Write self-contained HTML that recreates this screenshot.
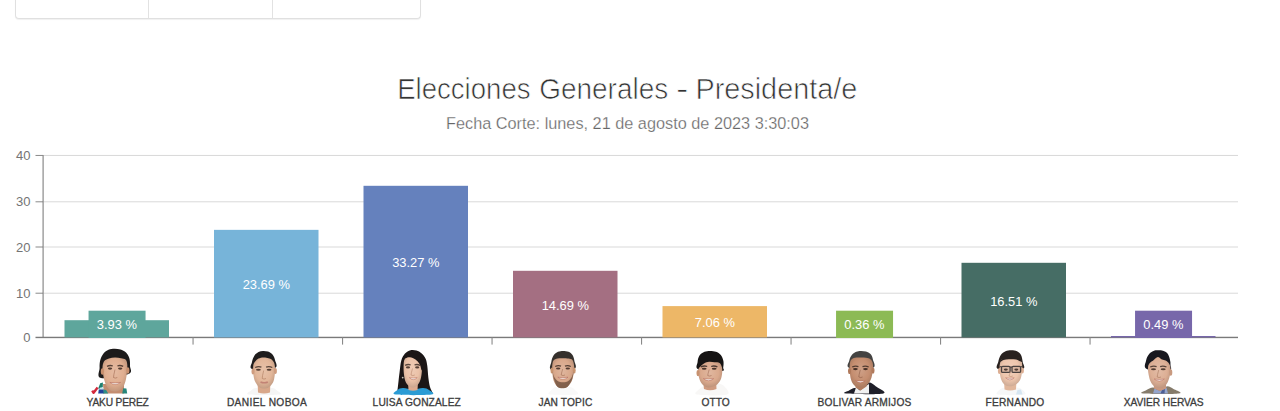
<!DOCTYPE html>
<html><head><meta charset="utf-8"><title>Elecciones Generales - Presidenta/e</title>
<style>
html,body{margin:0;padding:0;background:#fff;}
body{width:1280px;height:411px;overflow:hidden;position:relative;font-family:"Liberation Sans",Arial,sans-serif;}
.topbox{position:absolute;left:15px;top:-6px;width:404px;height:24px;border:1px solid #e0e0e0;border-top:none;border-radius:0 0 4px 4px;box-shadow:0 1px 1px rgba(0,0,0,0.06);background:#fff;}
.topbox i{position:absolute;top:0;bottom:0;width:1px;background:#e2e2e2;}
.t2{position:absolute;top:113.6px;left:0;width:1255px;text-align:center;font-size:16.3px;line-height:19px;color:#666;white-space:nowrap;-webkit-text-stroke:0.25px #fff;}
.chart{position:absolute;left:0;top:0;}
.tt{font-family:"Liberation Sans",Arial,sans-serif;font-size:30px;fill:#333;stroke:#fff;stroke-width:0.7px;white-space:pre;}
.yl{font-family:"Liberation Sans",Arial,sans-serif;font-size:13px;fill:#747474;}
.bl{font-family:"Liberation Sans",Arial,sans-serif;font-size:12.9px;fill:#fff;}
.nm{font-family:"Liberation Sans",Arial,sans-serif;font-size:10.2px;fill:#3c3c3c;stroke:#3c3c3c;stroke-width:0.3px;}
</style></head><body>
<div class="topbox"><i style="left:132px"></i><i style="left:256px"></i></div>
<div class="t2">Fecha Corte: lunes, 21 de agosto de 2023 3:30:03</div>
<svg class="chart" width="1280" height="411" viewBox="0 0 1280 411"><rect x="42.0" y="154.95" width="1196.0" height="1" fill="#d9d9d9"/><rect x="35.5" y="154.95" width="7.5" height="1" fill="#8a8a8a"/><rect x="42.0" y="201.30" width="1196.0" height="1" fill="#d9d9d9"/><rect x="35.5" y="201.30" width="7.5" height="1" fill="#8a8a8a"/><rect x="42.0" y="246.50" width="1196.0" height="1" fill="#d9d9d9"/><rect x="35.5" y="246.50" width="7.5" height="1" fill="#8a8a8a"/><rect x="42.0" y="292.70" width="1196.0" height="1" fill="#d9d9d9"/><rect x="35.5" y="292.70" width="7.5" height="1" fill="#8a8a8a"/><text x="30.5" y="160.05" text-anchor="end" class="yl">40</text><text x="30.5" y="206.40" text-anchor="end" class="yl">30</text><text x="30.5" y="251.60" text-anchor="end" class="yl">20</text><text x="30.5" y="297.80" text-anchor="end" class="yl">10</text><text x="30.5" y="342.00" text-anchor="end" class="yl">0</text><rect x="42.5" y="155" width="1.2" height="182.4" fill="#8a8a8a"/><rect x="35.5" y="336.75" width="1202.5" height="1.4" fill="#7a7a7a"/><rect x="192.50" y="337.4" width="1.1" height="7.2" fill="#8a8a8a"/><rect x="342.00" y="337.4" width="1.1" height="7.2" fill="#8a8a8a"/><rect x="491.50" y="337.4" width="1.1" height="7.2" fill="#8a8a8a"/><rect x="641.00" y="337.4" width="1.1" height="7.2" fill="#8a8a8a"/><rect x="790.50" y="337.4" width="1.1" height="7.2" fill="#8a8a8a"/><rect x="940.00" y="337.4" width="1.1" height="7.2" fill="#8a8a8a"/><rect x="1089.50" y="337.4" width="1.1" height="7.2" fill="#8a8a8a"/><rect x="64.50" y="320.20" width="104.5" height="17.20" fill="#5ea69c"/><rect x="214.00" y="229.85" width="104.5" height="107.55" fill="#77b4d9"/><rect x="363.50" y="185.80" width="104.5" height="151.60" fill="#6581bd"/><rect x="513.00" y="270.80" width="104.5" height="66.60" fill="#a46f82"/><rect x="662.50" y="306.10" width="104.5" height="31.30" fill="#edb767"/><rect x="961.50" y="262.80" width="104.5" height="74.60" fill="#466d65"/><rect x="1111.00" y="336.00" width="104.5" height="1.40" fill="#7767aa"/><rect x="88.55" y="310.7" width="57" height="27.3" fill="#5ea69c"/><text x="116.85" y="328.75" text-anchor="middle" class="bl">3.93 %</text><text x="266.35" y="289.18" text-anchor="middle" class="bl">23.69 %</text><text x="415.85" y="267.15" text-anchor="middle" class="bl">33.27 %</text><text x="565.35" y="309.65" text-anchor="middle" class="bl">14.69 %</text><text x="714.85" y="327.30" text-anchor="middle" class="bl">7.06 %</text><rect x="836.05" y="310.7" width="57" height="27.3" fill="#8cba55"/><text x="864.35" y="328.75" text-anchor="middle" class="bl">0.36 %</text><text x="1013.85" y="305.65" text-anchor="middle" class="bl">16.51 %</text><rect x="1135.05" y="310.7" width="57" height="27.3" fill="#7767aa"/><text x="1163.35" y="328.75" text-anchor="middle" class="bl">0.49 %</text><defs><radialGradient id="ge0ae90" cx="0.48" cy="0.42" r="0.62"><stop offset="0" stop-color="#e5bba2"/><stop offset="0.6" stop-color="#e0ae90"/><stop offset="1" stop-color="#bc9279"/></radialGradient><radialGradient id="ge2b699" cx="0.48" cy="0.42" r="0.62"><stop offset="0" stop-color="#e7c2a9"/><stop offset="0.6" stop-color="#e2b699"/><stop offset="1" stop-color="#be9981"/></radialGradient><radialGradient id="gebc1a7" cx="0.48" cy="0.42" r="0.62"><stop offset="0" stop-color="#eecbb5"/><stop offset="0.6" stop-color="#ebc1a7"/><stop offset="1" stop-color="#c5a28c"/></radialGradient><radialGradient id="gd9a88b" cx="0.48" cy="0.42" r="0.62"><stop offset="0" stop-color="#dfb69e"/><stop offset="0.6" stop-color="#d9a88b"/><stop offset="1" stop-color="#b68d75"/></radialGradient><radialGradient id="gdaa98d" cx="0.48" cy="0.42" r="0.62"><stop offset="0" stop-color="#e0b79f"/><stop offset="0.6" stop-color="#daa98d"/><stop offset="1" stop-color="#b78e76"/></radialGradient><radialGradient id="gc58e70" cx="0.48" cy="0.42" r="0.62"><stop offset="0" stop-color="#cea087"/><stop offset="0.6" stop-color="#c58e70"/><stop offset="1" stop-color="#a5775e"/></radialGradient><radialGradient id="geec6ad" cx="0.48" cy="0.42" r="0.62"><stop offset="0" stop-color="#f1cfba"/><stop offset="0.6" stop-color="#eec6ad"/><stop offset="1" stop-color="#c8a691"/></radialGradient><radialGradient id="gddaf95" cx="0.48" cy="0.42" r="0.62"><stop offset="0" stop-color="#e2bca6"/><stop offset="0.6" stop-color="#ddaf95"/><stop offset="1" stop-color="#ba937d"/></radialGradient></defs><path d="M103,384 L124,384 L124,393.6 L103.5,393.6 Z" fill="#c48d70" /><path d="M98.2,388.5 L100.2,383.2 L102.9,382.4 L102.8,386.8 L100.6,389.2 Z" fill="#1f7f6e" /><path d="M98.4,389.8 L100.4,387.6 L103.2,387.3 L103.8,389.6 Z" fill="#bfe6ea" /><path d="M98.2,393.6 L98.8,389.4 L103.6,389.5 L104.2,393.6 Z" fill="#23429a" /><path d="M103.4,393.6 L103.6,389.6 L106.2,390 L108.2,393.6 Z" fill="#2f8f86" /><path d="M122.2,393.6 L123.2,388.2 L126.4,388.6 L127.2,393.6 Z" fill="#27867a" /><path d="M101.00,378.00 C96.18,377.00 99.72,371.00 99.60,368.00 C99.48,365.00 99.65,362.42 100.30,360.00 C100.95,357.58 102.13,355.20 103.50,353.50 C104.87,351.80 106.67,350.58 108.50,349.80 C110.33,349.02 112.50,348.83 114.50,348.80 C116.50,348.77 118.58,348.98 120.50,349.60 C122.42,350.22 124.53,351.10 126.00,352.50 C127.47,353.90 128.63,355.75 129.30,358.00 C129.97,360.25 130.13,363.33 130.00,366.00 C129.87,368.67 133.33,372.00 128.50,374.00 C123.67,376.00 105.82,379.00 101.00,378.00 Z" fill="#1c1a1a" /><path d="M102.60,366.00 C102.87,364.13 103.43,362.07 104.50,360.80 C105.57,359.53 107.25,358.93 109.00,358.40 C110.75,357.87 113.00,357.63 115.00,357.60 C117.00,357.57 119.25,357.87 121.00,358.20 C122.75,358.53 124.47,358.63 125.50,359.60 C126.53,360.57 126.93,362.10 127.20,364.00 C127.47,365.90 127.30,368.50 127.10,371.00 C126.90,373.50 126.58,376.50 126.00,379.00 C125.42,381.50 124.73,384.07 123.60,386.00 C122.47,387.93 120.63,389.67 119.20,390.60 C117.77,391.53 116.43,391.60 115.00,391.60 C113.57,391.60 112.00,391.53 110.60,390.60 C109.20,389.67 107.70,387.93 106.60,386.00 C105.50,384.07 104.62,381.33 104.00,379.00 C103.38,376.67 103.13,374.17 102.90,372.00 C102.67,369.83 102.33,367.87 102.60,366.00 Z" fill="url(#ge0ae90)" /><ellipse cx="102.4" cy="371.5" rx="1.6" ry="3.2" fill="#c8906f"/><ellipse cx="127.8" cy="370.5" rx="1.6" ry="3.2" fill="#c8906f"/><ellipse cx="110.0" cy="368.6" rx="2.2" ry="1.05" fill="#3b2820" opacity="0.85"/><ellipse cx="120.2" cy="368.6" rx="2.2" ry="1.05" fill="#3b2820" opacity="0.85"/><path d="M107.0,366.4 Q110.0,364.8 112.8,366.0 M117.4,366.0 Q120.2,364.8 123.2,366.4" stroke="#2a1e1a" stroke-width="1.3" fill="none" opacity="0.75"/><path d="M115.0,369.5 Q113.5,375.5 113.5,377.5 Q115.3,378.7 117.3,377.5" stroke="#9a6248" stroke-width="1" fill="none" opacity="0.55"/><path d="M109.8,382.4 Q115.2,383.4 120.6,382.4 Q115.2,386.6 109.8,382.4 Z" fill="#f5eee8" stroke="#a8564e" stroke-width="0.7" stroke-opacity="0.6"/><path d="M92.2,390.6 L93.6,392.8 L97.6,387.6" stroke="#d3283a" stroke-width="2.4" fill="none" stroke-linejoin="round"/><path d="M249.00,394.60 C244.33,393.92 249.83,391.60 251.00,390.50 C252.17,389.40 253.83,388.08 256.00,388.00 C258.17,387.92 261.33,390.00 264.00,390.00 C266.67,390.00 269.83,387.92 272.00,388.00 C274.17,388.08 275.83,389.40 277.00,390.50 C278.17,391.60 283.67,393.92 279.00,394.60 C274.33,395.28 253.67,395.28 249.00,394.60 Z" fill="#f5f5f5" /><path d="M257.5,381 L270.5,381 L270,392.5 Q264,394.5 258,392.5 Z" fill="#d8a78a" /><path d="M252.40,369.00 C248.60,368.00 251.65,364.25 252.00,362.00 C252.35,359.75 253.42,357.17 254.50,355.50 C255.58,353.83 257.08,352.77 258.50,352.00 C259.92,351.23 261.42,350.97 263.00,350.90 C264.58,350.83 266.42,351.00 268.00,351.60 C269.58,352.20 271.33,353.10 272.50,354.50 C273.67,355.90 274.62,357.75 275.00,360.00 C275.38,362.25 278.57,366.50 274.80,368.00 C271.03,369.50 256.20,370.00 252.40,369.00 Z" fill="#1f1d1d" /><path d="M253.20,366.00 C253.47,363.60 254.32,362.83 255.20,361.60 C256.08,360.37 257.12,359.28 258.50,358.60 C259.88,357.92 261.83,357.57 263.50,357.50 C265.17,357.43 267.15,357.88 268.50,358.20 C269.85,358.52 270.65,358.60 271.60,359.40 C272.55,360.20 273.62,361.40 274.20,363.00 C274.78,364.60 275.03,366.83 275.10,369.00 C275.17,371.17 274.95,373.73 274.60,376.00 C274.25,378.27 273.97,380.73 273.00,382.60 C272.03,384.47 270.28,386.20 268.80,387.20 C267.32,388.20 265.67,388.60 264.10,388.60 C262.53,388.60 260.82,388.20 259.40,387.20 C257.98,386.20 256.57,384.47 255.60,382.60 C254.63,380.73 254.00,378.77 253.60,376.00 C253.20,373.23 252.93,368.40 253.20,366.00 Z" fill="url(#ge2b699)" /><ellipse cx="253" cy="371.5" rx="1.5" ry="3" fill="#cf9c7e"/><ellipse cx="275.4" cy="371" rx="1.5" ry="3" fill="#cf9c7e"/><ellipse cx="258.4" cy="369.7" rx="2.4" ry="1.05" fill="#3b2820" opacity="0.85"/><ellipse cx="269.1" cy="369.7" rx="2.4" ry="1.05" fill="#3b2820" opacity="0.85"/><path d="M255.2,367.5 Q258.4,365.9 261.4,367.1 M266.1,367.1 Q269.1,365.9 272.3,367.5" stroke="#2a1e1a" stroke-width="1.3" fill="none" opacity="0.75"/><path d="M263.7,370.5 Q262.2,376.5 262.2,378.5 Q264.0,379.7 266.0,378.5" stroke="#a87458" stroke-width="1" fill="none" opacity="0.55"/><path d="M260.5,382.0 Q264.1,383.6 267.8,382.0" stroke="#b56e66" stroke-width="1.6" fill="none" opacity="0.7"/><path d="M397.10,393.60 C397.28,392.00 397.78,387.60 398.20,384.00 C398.62,380.40 399.08,375.90 399.60,372.00 C400.12,368.10 400.40,363.67 401.30,360.60 C402.20,357.53 403.47,355.32 405.00,353.60 C406.53,351.88 408.58,350.80 410.50,350.30 C412.42,349.80 414.68,350.10 416.50,350.60 C418.32,351.10 419.90,351.98 421.40,353.30 C422.90,354.62 424.52,356.38 425.50,358.50 C426.48,360.62 426.82,362.75 427.30,366.00 C427.78,369.25 427.95,374.50 428.40,378.00 C428.85,381.50 429.23,384.40 430.00,387.00 C430.77,389.60 432.50,392.50 433.00,393.60 Z" fill="#1b1616" /><path d="M395.90,394.60 C390.28,393.83 396.32,391.10 397.50,390.00 C398.68,388.90 400.42,388.08 403.00,388.00 C405.58,387.92 409.67,389.50 413.00,389.50 C416.33,389.50 420.33,387.92 423.00,388.00 C425.67,388.08 427.63,388.90 429.00,390.00 C430.37,391.10 436.72,393.83 431.20,394.60 C425.68,395.37 401.52,395.37 395.90,394.60 Z" fill="#2b9bd4" /><path d="M408,381 L418,381 L417.5,390 Q413,391.5 408.5,390 Z" fill="#dcab90" /><path d="M403.60,366.00 C403.68,363.58 403.75,361.17 404.40,359.50 C405.05,357.83 406.32,356.63 407.50,356.00 C408.68,355.37 410.08,355.45 411.50,355.70 C412.92,355.95 414.55,356.48 416.00,357.50 C417.45,358.52 419.23,360.22 420.20,361.80 C421.17,363.38 421.57,364.97 421.80,367.00 C422.03,369.03 421.90,371.67 421.60,374.00 C421.30,376.33 420.80,379.03 420.00,381.00 C419.20,382.97 417.98,384.70 416.80,385.80 C415.62,386.90 414.20,387.55 412.90,387.60 C411.60,387.65 410.23,387.12 409.00,386.10 C407.77,385.08 406.35,383.52 405.50,381.50 C404.65,379.48 404.22,376.58 403.90,374.00 C403.58,371.42 403.52,368.42 403.60,366.00 Z" fill="url(#gebc1a7)" /><path d="M403.60,360.50 C403.63,360.10 404.65,356.92 405.80,355.80 C406.95,354.68 408.80,354.03 410.50,353.80 C412.20,353.57 414.32,353.67 416.00,354.40 C417.68,355.13 419.60,356.52 420.60,358.20 C421.60,359.88 421.80,362.45 422.00,364.50 C422.20,366.55 422.20,370.58 421.80,370.50 C421.40,370.42 420.65,365.82 419.60,364.00 C418.55,362.18 417.10,360.73 415.50,359.60 C413.90,358.47 411.65,357.43 410.00,357.20 C408.35,356.97 406.67,357.65 405.60,358.20 C404.53,358.75 403.57,360.90 403.60,360.50 Z" fill="#1b1616" /><circle cx="402.7" cy="377.6" r="0.9" fill="#c9c2b8"/><ellipse cx="408.0" cy="367.4" rx="2.1" ry="1.05" fill="#3b2820" opacity="0.85"/><ellipse cx="417.2" cy="367.4" rx="2.1" ry="1.05" fill="#3b2820" opacity="0.85"/><path d="M405.1,365.4 Q408.0,363.8 410.7,365.0 M414.5,365.0 Q417.2,363.8 420.1,365.4" stroke="#2a1e1a" stroke-width="1.3" fill="none" opacity="0.75"/><path d="M412.5,368.5 Q411.0,373.8 411.0,375.0 Q412.8,376.2 414.8,375.0" stroke="#b27f66" stroke-width="1" fill="none" opacity="0.55"/><path d="M409.3,377.6 Q413.2,378.6 417.2,377.6 Q413.2,381.8 409.3,377.6 Z" fill="#f5eee8" stroke="#a8564e" stroke-width="0.7" stroke-opacity="0.6"/><path d="M550.00,394.60 C545.83,393.83 550.50,391.27 551.50,390.00 C552.50,388.73 554.08,387.17 556.00,387.00 C557.92,386.83 560.67,389.00 563.00,389.00 C565.33,389.00 568.00,386.83 570.00,387.00 C572.00,387.17 573.92,388.73 575.00,390.00 C576.08,391.27 580.67,393.83 576.50,394.60 C572.33,395.37 554.17,395.37 550.00,394.60 Z" fill="#f9f9f9" /><path d="M551.80,370.00 C548.00,368.83 551.02,364.42 551.30,362.00 C551.58,359.58 552.38,357.20 553.50,355.50 C554.62,353.80 556.40,352.57 558.00,351.80 C559.60,351.03 561.35,350.90 563.10,350.90 C564.85,350.90 566.93,351.12 568.50,351.80 C570.07,352.48 571.52,353.47 572.50,355.00 C573.48,356.53 574.13,358.67 574.40,361.00 C574.67,363.33 577.87,367.50 574.10,369.00 C570.33,370.50 555.60,371.17 551.80,370.00 Z" fill="#35302c" /><path d="M552.20,366.00 C552.38,363.92 552.62,361.75 553.50,360.50 C554.38,359.25 555.92,358.88 557.50,358.50 C559.08,358.12 561.17,358.20 563.00,358.20 C564.83,358.20 566.92,358.20 568.50,358.50 C570.08,358.80 571.57,358.75 572.50,360.00 C573.43,361.25 573.90,363.83 574.10,366.00 C574.30,368.17 574.05,370.58 573.70,373.00 C573.35,375.42 572.98,378.27 572.00,380.50 C571.02,382.73 569.38,385.15 567.80,386.40 C566.22,387.65 564.27,388.00 562.50,388.00 C560.73,388.00 558.68,387.65 557.20,386.40 C555.72,385.15 554.40,382.73 553.60,380.50 C552.80,378.27 552.63,375.42 552.40,373.00 C552.17,370.58 552.02,368.08 552.20,366.00 Z" fill="url(#gd9a88b)" /><ellipse cx="551.9" cy="370.5" rx="1.4" ry="3" fill="#c8946f"/><ellipse cx="574.3" cy="370.5" rx="1.4" ry="3" fill="#c8946f"/><path d="M552.40,371.50 C552.37,371.83 553.20,376.52 554.00,379.00 C554.80,381.48 555.78,384.85 557.20,386.40 C558.62,387.95 560.73,388.30 562.50,388.30 C564.27,388.30 566.22,387.87 567.80,386.40 C569.38,384.93 571.02,381.98 572.00,379.50 C572.98,377.02 573.73,371.92 573.70,371.50 C573.67,371.08 572.58,375.50 571.80,377.00 C571.02,378.50 569.97,379.67 569.00,380.50 C568.03,381.33 567.00,381.70 566.00,382.00 C565.00,382.30 564.00,382.30 563.00,382.30 C562.00,382.30 561.00,382.30 560.00,382.00 C559.00,381.70 557.97,381.33 557.00,380.50 C556.03,379.67 554.97,378.50 554.20,377.00 C553.43,375.50 552.43,371.17 552.40,371.50 Z" fill="#7a5a46" opacity="0.9"/><ellipse cx="558.2" cy="368.5" rx="2.2" ry="1.05" fill="#3b2820" opacity="0.85"/><ellipse cx="567.8" cy="368.5" rx="2.2" ry="1.05" fill="#3b2820" opacity="0.85"/><path d="M555.2,366.5 Q558.2,364.9 561.0,366.1 M565.0,366.1 Q567.8,364.9 570.8,366.5" stroke="#241a16" stroke-width="1.3" fill="none" opacity="0.75"/><path d="M562.7,369.0 Q561.2,374.0 561.2,375.0 Q563.0,376.2 565.0,375.0" stroke="#9a6a50" stroke-width="1" fill="none" opacity="0.55"/><path d="M557.8,377.2 Q562.9,378.2 568.0,377.2 Q562.9,381.4 557.8,377.2 Z" fill="#f5eee8" stroke="#a8564e" stroke-width="0.7" stroke-opacity="0.6"/><path d="M697.00,394.60 C692.42,393.67 698.17,390.43 699.50,389.00 C700.83,387.57 702.92,386.25 705.00,386.00 C707.08,385.75 709.83,387.83 712.00,387.50 C714.17,387.17 716.00,384.25 718.00,384.00 C720.00,383.75 722.50,384.23 724.00,386.00 C725.50,387.77 731.50,393.17 727.00,394.60 C722.50,396.03 701.58,395.53 697.00,394.60 Z" fill="#f8f7f6" /><path d="M703,380 L716,379 L716.5,389 Q710,391.5 704,389 Z" fill="#cf9b80" /><path d="M698.60,369.50 C694.57,368.00 697.45,364.33 697.60,362.00 C697.75,359.67 698.35,357.20 699.50,355.50 C700.65,353.80 702.77,352.57 704.50,351.80 C706.23,351.03 707.98,350.92 709.90,350.90 C711.82,350.88 714.18,351.02 716.00,351.70 C717.82,352.38 719.57,353.45 720.80,355.00 C722.03,356.55 723.00,358.92 723.40,361.00 C723.80,363.08 723.47,365.83 723.20,367.50 C722.93,369.17 725.90,370.67 721.80,371.00 C717.70,371.33 702.63,371.00 698.60,369.50 Z" fill="#161414" /><path d="M698.50,369.00 C698.82,367.87 699.28,367.62 700.20,366.70 C701.12,365.78 702.53,364.32 704.00,363.50 C705.47,362.68 707.25,362.00 709.00,361.80 C710.75,361.60 712.73,362.10 714.50,362.30 C716.27,362.50 718.35,362.13 719.60,363.00 C720.85,363.87 721.58,365.75 722.00,367.50 C722.42,369.25 722.35,371.42 722.10,373.50 C721.85,375.58 721.52,378.05 720.50,380.00 C719.48,381.95 718.07,383.97 716.00,385.20 C713.93,386.43 710.35,387.52 708.10,387.40 C705.85,387.28 703.95,385.90 702.50,384.50 C701.05,383.10 700.10,380.83 699.40,379.00 C698.70,377.17 698.45,375.17 698.30,373.50 C698.15,371.83 698.18,370.13 698.50,369.00 Z" fill="url(#gdaa98d)" /><ellipse cx="698" cy="373" rx="1.5" ry="3.1" fill="#c7916f"/><ellipse cx="704.2" cy="368.8" rx="2.4" ry="1.05" fill="#3b2820" opacity="0.9"/><ellipse cx="714.2" cy="368.8" rx="2.4" ry="1.05" fill="#3b2820" opacity="0.9"/><path d="M701.0,366.9 Q704.2,365.3 707.2,366.5 M711.2,366.5 Q714.2,365.3 717.4,366.9" stroke="#1e1616" stroke-width="1.3" fill="none" opacity="0.75"/><path d="M709.2,369.5 Q707.7,374.5 707.7,375.5 Q709.5,376.7 711.5,375.5" stroke="#9a6650" stroke-width="1" fill="none" opacity="0.55"/><path d="M703.4,378.6 Q708.5,379.6 713.6,378.6 Q708.5,382.8 703.4,378.6 Z" fill="#f5eee8" stroke="#a8564e" stroke-width="0.7" stroke-opacity="0.6"/><path d="M846.10,393.60 C840.40,393.08 847.58,391.43 849.00,390.50 C850.42,389.57 852.77,388.25 854.60,388.00 C856.43,387.75 858.27,389.17 860.00,389.00 C861.73,388.83 863.47,388.08 865.00,387.00 C866.53,385.92 867.37,382.58 869.20,382.50 C871.03,382.42 873.67,384.65 876.00,386.50 C878.33,388.35 888.18,392.42 883.20,393.60 C878.22,394.78 851.80,394.12 846.10,393.60 Z" fill="#1f1f29" /><path d="M854,393.6 L856,387.5 L860,390.5 L864.5,387 L869,384 L869,393.6 Z" fill="#f1f1f1" /><path d="M855,380 L867,380 L866.5,386.5 L860.5,390.5 L855.5,387.5 Z" fill="#b27c5f" /><path d="M849.40,367.90 C845.48,366.67 848.87,362.68 849.30,360.50 C849.73,358.32 850.83,356.27 852.00,354.80 C853.17,353.33 854.85,352.35 856.30,351.70 C857.75,351.05 859.08,350.93 860.70,350.90 C862.32,350.87 864.37,350.98 866.00,351.50 C867.63,352.02 869.35,352.68 870.50,354.00 C871.65,355.32 872.52,357.08 872.90,359.40 C873.28,361.72 876.72,366.48 872.80,367.90 C868.88,369.32 853.32,369.13 849.40,367.90 Z" fill="#444342" /><path d="M849.70,365.00 C849.90,363.00 850.12,361.20 851.00,360.00 C851.88,358.80 853.42,358.22 855.00,357.80 C856.58,357.38 858.67,357.50 860.50,357.50 C862.33,357.50 864.30,357.47 866.00,357.80 C867.70,358.13 869.55,358.47 870.70,359.50 C871.85,360.53 872.57,362.00 872.90,364.00 C873.23,366.00 873.05,368.92 872.70,371.50 C872.35,374.08 871.83,377.17 870.80,379.50 C869.77,381.83 868.28,384.18 866.50,385.50 C864.72,386.82 862.15,387.45 860.10,387.40 C858.05,387.35 855.72,386.52 854.20,385.20 C852.68,383.88 851.73,381.70 851.00,379.50 C850.27,377.30 850.02,374.42 849.80,372.00 C849.58,369.58 849.50,367.00 849.70,365.00 Z" fill="url(#gc58e70)" /><ellipse cx="849.5" cy="371" rx="1.5" ry="3.1" fill="#b07a5c"/><ellipse cx="873" cy="370.5" rx="1.5" ry="3.1" fill="#b07a5c"/><ellipse cx="855.4" cy="369.1" rx="2.4" ry="1.05" fill="#2f1f18" opacity="0.85"/><ellipse cx="865.5" cy="369.1" rx="2.4" ry="1.05" fill="#2f1f18" opacity="0.85"/><path d="M852.2,367.0 Q855.4,365.4 858.4,366.6 M862.5,366.6 Q865.5,365.4 868.7,367.0" stroke="#2a1e1a" stroke-width="1.3" fill="none" opacity="0.75"/><path d="M860.3,369.8 Q858.8,375.4 858.8,377.0 Q860.6,378.2 862.6,377.0" stroke="#86563f" stroke-width="1" fill="none" opacity="0.55"/><path d="M855.6,380.6 Q860.4,381.6 865.2,380.6 Q860.4,384.8 855.6,380.6 Z" fill="#f5eee8" stroke="#a8564e" stroke-width="0.7" stroke-opacity="0.6"/><path d="M998.00,394.60 C994.00,393.75 998.83,390.68 1000.00,389.50 C1001.17,388.32 1003.17,387.58 1005.00,387.50 C1006.83,387.42 1009.00,389.00 1011.00,389.00 C1013.00,389.00 1015.17,387.42 1017.00,387.50 C1018.83,387.58 1020.83,388.32 1022.00,389.50 C1023.17,390.68 1028.00,393.75 1024.00,394.60 C1020.00,395.45 1002.00,395.45 998.00,394.60 Z" fill="#f6f7f8" /><path d="M1016,394.6 L1017.5,390 L1021,389.5 L1022.5,394.6 Z" fill="#d6e6f2" /><path d="M1004,380 L1016.5,380 L1016,389.5 Q1010,391.5 1004.5,389.5 Z" fill="#e1b79c" /><path d="M998.50,369.10 C994.48,367.88 997.92,364.15 998.30,361.80 C998.68,359.45 999.60,356.75 1000.80,355.00 C1002.00,353.25 1003.78,352.08 1005.50,351.30 C1007.22,350.52 1009.18,350.32 1011.10,350.30 C1013.02,350.28 1015.35,350.42 1017.00,351.20 C1018.65,351.98 1020.07,353.23 1021.00,355.00 C1021.93,356.77 1022.37,359.45 1022.60,361.80 C1022.83,364.15 1026.42,367.88 1022.40,369.10 C1018.38,370.32 1002.52,370.32 998.50,369.10 Z" fill="#28211f" /><path d="M999.60,366.00 C999.80,364.03 1000.35,361.47 1001.00,360.20 C1001.65,358.93 1002.33,358.85 1003.50,358.40 C1004.67,357.95 1006.25,357.77 1008.00,357.50 C1009.75,357.23 1012.17,356.75 1014.00,356.80 C1015.83,356.85 1017.73,357.10 1019.00,357.80 C1020.27,358.50 1021.07,359.47 1021.60,361.00 C1022.13,362.53 1022.18,364.83 1022.20,367.00 C1022.22,369.17 1022.10,371.75 1021.70,374.00 C1021.30,376.25 1020.92,378.67 1019.80,380.50 C1018.68,382.33 1016.75,384.05 1015.00,385.00 C1013.25,385.95 1011.10,386.33 1009.30,386.20 C1007.50,386.07 1005.58,385.40 1004.20,384.20 C1002.82,383.00 1001.73,381.03 1001.00,379.00 C1000.27,376.97 1000.03,374.17 999.80,372.00 C999.57,369.83 999.40,367.97 999.60,366.00 Z" fill="url(#geec6ad)" /><path d="M1000.00,362.00 C999.92,361.57 1001.50,358.47 1003.00,357.40 C1004.50,356.33 1007.00,355.87 1009.00,355.60 C1011.00,355.33 1013.08,355.37 1015.00,355.80 C1016.92,356.23 1019.33,357.17 1020.50,358.20 C1021.67,359.23 1022.75,361.77 1022.00,362.00 C1021.25,362.23 1018.17,360.07 1016.00,359.60 C1013.83,359.13 1011.08,359.13 1009.00,359.20 C1006.92,359.27 1005.00,359.53 1003.50,360.00 C1002.00,360.47 1000.08,362.43 1000.00,362.00 Z" fill="#28211f" /><ellipse cx="999.4" cy="371" rx="1.5" ry="3" fill="#dcae93"/><ellipse cx="1022.4" cy="370.5" rx="1.5" ry="3" fill="#dcae93"/><rect x="1001.5" y="366.3" width="8.6" height="6.1" rx="1.2" fill="#c9a894" opacity="0.6"/><rect x="1012" y="366.3" width="8.6" height="6.1" rx="1.2" fill="#c9a894" opacity="0.6"/><ellipse cx="1005.8" cy="369.6" rx="2.0" ry="1.05" fill="#3a2a24" opacity="0.85"/><ellipse cx="1016.3" cy="369.6" rx="2.0" ry="1.05" fill="#3a2a24" opacity="0.85"/><path d="M999.2,367 L1001.5,366.5 M1020.6,366.5 L1022.8,367 M1010.1,367.2 L1012,367.2" stroke="#4a4240" stroke-width="1.2"/><rect x="1001.5" y="366.3" width="8.6" height="6.1" rx="1.2" fill="none" stroke="#4a4240" stroke-width="1.3"/><rect x="1012" y="366.3" width="8.6" height="6.1" rx="1.2" fill="none" stroke="#4a4240" stroke-width="1.3"/><path d="M1010.5,371.5 Q1009.0,375.8 1009.0,376.0 Q1010.8,377.2 1012.8,376.0" stroke="#b88a70" stroke-width="1" fill="none" opacity="0.55"/><path d="M1005.6,377.8 Q1009.9,378.8 1014.2,377.8 Q1009.9,382.0 1005.6,377.8 Z" fill="#f5eee8" stroke="#a8564e" stroke-width="0.7" stroke-opacity="0.6"/><path d="M1143.10,393.50 C1137.68,392.92 1144.88,391.02 1146.50,390.00 C1148.12,388.98 1150.55,387.57 1152.80,387.40 C1155.05,387.23 1157.57,389.20 1160.00,389.00 C1162.43,388.80 1165.15,386.20 1167.40,386.20 C1169.65,386.20 1171.57,387.78 1173.50,389.00 C1175.43,390.22 1184.07,392.75 1179.00,393.50 C1173.93,394.25 1148.52,394.08 1143.10,393.50 Z" fill="#857b6b" /><path d="M1153,393.5 L1154.5,388.5 L1160,391 L1166.5,387.5 L1168,393.5 Z" fill="#93a4cc" /><path d="M1160.5,393.5 L1162,390 L1165,389 L1164.5,393.5 Z" fill="#4d5f95" /><path d="M1153.5,381 L1166,381 L1166,388.5 L1160,391 L1154,388.5 Z" fill="#c99880" /><path d="M1146.80,369.10 C1142.98,367.48 1145.73,363.08 1146.10,360.60 C1146.47,358.12 1147.77,355.80 1149.00,354.20 C1150.23,352.60 1152.05,351.65 1153.50,351.00 C1154.95,350.35 1156.12,350.33 1157.70,350.30 C1159.28,350.27 1161.37,350.25 1163.00,350.80 C1164.63,351.35 1166.35,352.17 1167.50,353.60 C1168.65,355.03 1169.40,357.50 1169.90,359.40 C1170.40,361.30 1170.65,363.18 1170.50,365.00 C1170.35,366.82 1172.95,369.62 1169.00,370.30 C1165.05,370.98 1150.62,370.72 1146.80,369.10 Z" fill="#17171e" /><path d="M1148.00,367.00 C1148.20,365.08 1148.88,364.13 1149.80,363.00 C1150.72,361.87 1152.17,361.20 1153.50,360.20 C1154.83,359.20 1156.38,357.10 1157.80,357.00 C1159.22,356.90 1160.70,359.00 1162.00,359.60 C1163.30,360.20 1164.43,359.95 1165.60,360.60 C1166.77,361.25 1168.18,362.27 1169.00,363.50 C1169.82,364.73 1170.33,366.08 1170.50,368.00 C1170.67,369.92 1170.42,372.75 1170.00,375.00 C1169.58,377.25 1168.92,379.58 1168.00,381.50 C1167.08,383.42 1165.92,385.42 1164.50,386.50 C1163.08,387.58 1161.22,388.03 1159.50,388.00 C1157.78,387.97 1155.68,387.38 1154.20,386.30 C1152.72,385.22 1151.53,383.47 1150.60,381.50 C1149.67,379.53 1149.03,376.92 1148.60,374.50 C1148.17,372.08 1147.80,368.92 1148.00,367.00 Z" fill="url(#gddaf95)" /><ellipse cx="1170.7" cy="372.5" rx="1.6" ry="3.2" fill="#c99a80"/><ellipse cx="1153.5" cy="369.2" rx="2.5" ry="1.05" fill="#3b2820" opacity="0.85"/><ellipse cx="1163.2" cy="369.2" rx="2.5" ry="1.05" fill="#3b2820" opacity="0.85"/><path d="M1150.2,367.0 Q1153.5,365.4 1156.6,366.6 M1160.1,366.6 Q1163.2,365.4 1166.5,367.0" stroke="#2a1e1a" stroke-width="1.3" fill="none" opacity="0.75"/><path d="M1158.7,370.0 Q1157.2,375.5 1157.2,377.0 Q1159.0,378.2 1161.0,377.0" stroke="#a4735a" stroke-width="1" fill="none" opacity="0.55"/><path d="M1154.2,379.0 Q1159.3,380.0 1164.4,379.0 Q1159.3,383.2 1154.2,379.0 Z" fill="#f5eee8" stroke="#a8564e" stroke-width="0.7" stroke-opacity="0.6"/><text x="117.70" y="405.6" text-anchor="middle" textLength="62.20" lengthAdjust="spacing" class="nm">YAKU PEREZ</text><text x="266.90" y="405.6" text-anchor="middle" textLength="80.00" lengthAdjust="spacing" class="nm">DANIEL NOBOA</text><text x="416.70" y="405.6" text-anchor="middle" textLength="88.20" lengthAdjust="spacing" class="nm">LUISA GONZALEZ</text><text x="565.38" y="405.6" text-anchor="middle" textLength="53.85" lengthAdjust="spacing" class="nm">JAN TOPIC</text><text x="715.60" y="405.6" text-anchor="middle" textLength="28.00" lengthAdjust="spacing" class="nm">OTTO</text><text x="864.45" y="405.6" text-anchor="middle" textLength="93.70" lengthAdjust="spacing" class="nm">BOLIVAR ARMIJOS</text><text x="1014.88" y="405.6" text-anchor="middle" textLength="58.85" lengthAdjust="spacing" class="nm">FERNANDO</text><text x="1163.65" y="405.6" text-anchor="middle" textLength="79.90" lengthAdjust="spacing" class="nm">XAVIER HERVAS</text><text class="tt" y="99.4"><tspan x="397.20" textLength="133.30" lengthAdjust="spacingAndGlyphs">Elecciones</tspan> <tspan x="539.20" textLength="129.00" lengthAdjust="spacingAndGlyphs">Generales</tspan> <tspan x="676.00" textLength="12.40" lengthAdjust="spacingAndGlyphs">-</tspan> <tspan x="695.40" textLength="162.00" lengthAdjust="spacingAndGlyphs">Presidenta/e</tspan> </text></svg>
</body></html>
